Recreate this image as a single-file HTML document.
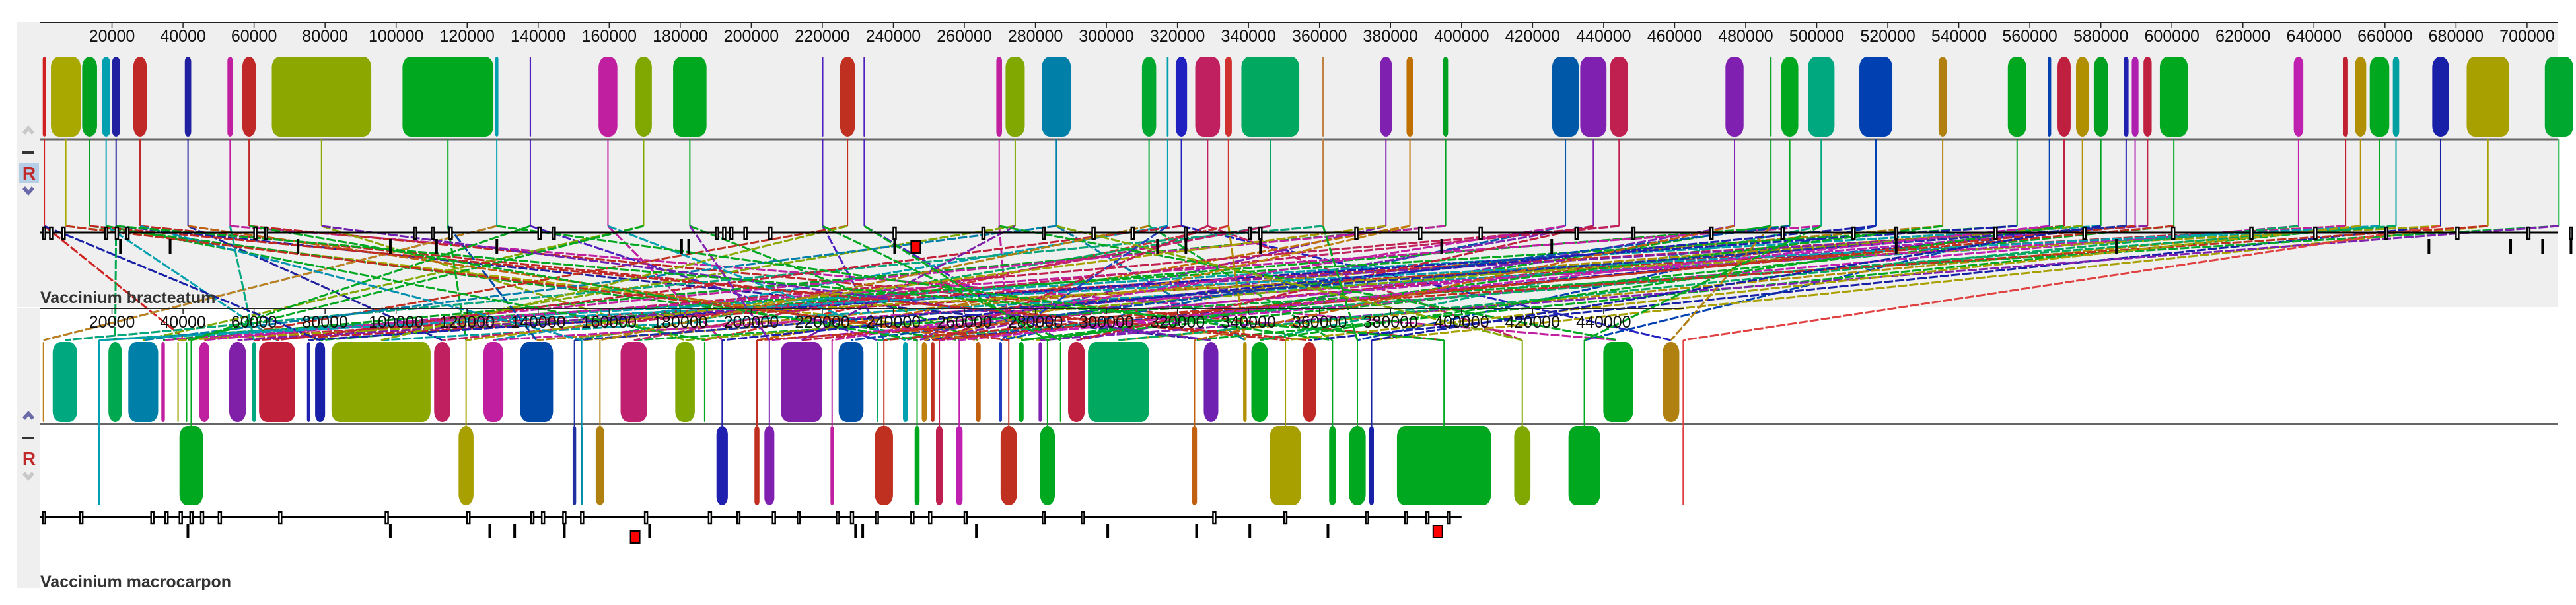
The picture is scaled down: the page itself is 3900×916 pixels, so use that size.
<!DOCTYPE html>
<html><head><meta charset="utf-8"><style>
html,body{margin:0;padding:0;background:#fff;}
svg{display:block;font-family:"Liberation Sans",sans-serif;}
</style></head><body>
<svg id="chart" width="3900" height="916" viewBox="0 0 3900 916" xmlns="http://www.w3.org/2000/svg">
<rect x="25" y="33" width="3847" height="432" fill="#efefef"/>
<rect x="25" y="466" width="36" height="424" fill="#efefef"/>
<g id="g-lines"></g>
<g id="g-top"></g>
<g id="g-bot"></g>
<g>
<path d="M34 200 L43 190 L52 200 L48 204 L43 198 L38 204Z" fill="#c8c8c8"/>
<rect x="34" y="229" width="18" height="4" fill="#333"/>
<rect x="29" y="247" width="30" height="30" fill="#b4cfe6"/>
<text x="44" y="272" font-size="28" font-weight="bold" fill="#c0282a" text-anchor="middle">R</text>
<path d="M34 286 L43 296 L52 286 L48 282 L43 288 L38 282Z" fill="#6a6aa8"/>
</g>
<g>
<path d="M34 632 L43 622 L52 632 L48 636 L43 630 L38 636Z" fill="#6a6aa8"/>
<rect x="34" y="661" width="18" height="4" fill="#333"/>
<text x="44" y="704" font-size="28" font-weight="bold" fill="#c0282a" text-anchor="middle">R</text>
<path d="M34 718 L43 728 L52 718 L48 714 L43 720 L38 714Z" fill="#c8c8c8"/>
</g>
</svg>
<script>
// ---- data (positions in kb) ----
const topStart=[0.5,2.8,11.6,17.2,20,26,40.5,52.5,56.7,65,101.8,127.9,137.6,157,167.4,178,219.9,225,231.6,269,271.6,281.8,310,317,319.5,325,333.4,338,360.8,377,384.5,394.8,425.5,433.4,441.8,474.3,486.9,490,497.5,512,534.3,553.8,565,567.8,573,578,586.4,588.7,592,596.6,634.3,648.2,651.5,655.7,662.2,673.3,683,705];
const topEnd=[1.4,11.2,15.8,19.5,22.3,29.8,42.3,54,60.5,93,127.4,128.8,138,162.3,172,187.4,220.3,229.2,232,270.6,277,290,314,317.5,322.7,332,335.3,354.3,361.2,380.4,386.4,396.2,433,440.8,446.9,479.4,487.3,494.8,505,521.3,536.6,559,566,571.5,576.6,582,587.8,590.6,594.3,604.5,637,649.6,654.7,661.2,664,678,695,713];
const topColor=["#d02020","#a8a800","#00a020","#00a0b0","#2020a0","#c02828","#2020a0","#c020a0","#c02828","#8ca800","#00a820","#00a0b0","#5020c0","#c020a0","#80a800","#00a820","#5020c0","#c03020","#5020c0","#c020a0","#80a800","#0080a8","#00a830","#00a0b0","#2020c0","#c02060","#d03030","#00a860","#c08040","#8020b0","#c07000","#00a020","#0058a8","#8020b0","#c02050","#8020b0","#00a020","#00a820","#00a880","#0040b0","#b08010","#00a820","#0040b0","#c02040","#b09000","#00a020","#2020b0","#b020b0","#c02040","#00a820","#c020b0","#c02030","#b09000","#00a820","#00a0a0","#1820a8","#a8a000","#00a830"];
const botStart=[0.5,3.3,16.1,19,24.6,33.9,38.4,40.8,44.6,53,59.5,61.4,74.9,77.2,81.8,110.7,124.6,134.9,163.2,178.6,186.7,208.3,224.6,235.3,242.7,248,250.6,263.2,269.7,275.3,280.9,286.9,289.2,294.8,327.4,338.5,340.8,355.3,439.9,456.6];
const botEnd=[0.9,10.2,16.6,22.8,33,34.9,38.8,41.2,47.4,57.7,60.5,71.6,75.8,80,109.7,115.3,130.2,144.2,170.7,184.1,187.1,220,231.6,235.7,244.1,249.4,251.6,264.6,270.6,276.7,281.8,287.3,293.9,312,331.5,339.5,345.5,359,448.3,461.3];
const botColor=["#c08020","#00a880","#00a0b0","#00a850","#0080a8","#c020a0","#a0a000","#00a820","#c020a0","#8020a8","#00a880","#c0203a","#2020b0","#1820a8","#8ca800","#c02060","#c020a0","#0048a8","#c02070","#80a800","#00a820","#8020a8","#0050a8","#00a860","#00a0b0","#c08010","#c03020","#c06010","#2040c0","#00a820","#8020b0","#00a820","#c02040","#00a860","#7020b0","#b09000","#00a820","#c02828","#00a820","#b08010"];
const revStart=[16.1,39,117.6,149.7,152,156.2,190.2,200.9,203.7,222.3,234.8,246,252,257.6,270.2,281.3,324.1,346,362.7,368.3,374,381.8,414.8,430.1,462.2];
const revEnd=[16.6,45.6,121.8,150.7,152.5,158.6,193.4,202.3,206.5,223.2,239.9,247.4,253.9,259.5,274.8,285.5,325.5,354.8,364.6,373,375.3,408.3,419.4,439,462.6];
const revColor=["#00a0b0","#00a820","#a8a000","#2030a0","#0090b0","#b08010","#2020b0","#c03020","#8020b0","#c020a0","#c03020","#00a820","#c02050","#c020b0","#c03020","#00a820","#c06010","#a8a000","#00a820","#00a820","#1820a8","#00a820","#80a800","#00a820","#e04040"];
const tickTop=[20000,40000,60000,80000,100000,120000,140000,160000,180000,200000,220000,240000,260000,280000,300000,320000,340000,360000,380000,400000,420000,440000,460000,480000,500000,520000,540000,560000,580000,600000,620000,640000,660000,680000,700000];
const tickBot=[20000,40000,60000,80000,100000,120000,140000,160000,180000,200000,220000,240000,260000,280000,300000,320000,340000,360000,380000,400000,420000,440000];
const topGenes=[0.5,2.5,6,18,21,24,60,63,105,110,115,140,144,190,192,194,198,205,240,265,282,296,307,322,340,343,370,388,405,432,448,470,490,510,522,550,575,600,622,640,660,680,700,712];
const topGenesLow=[22,36,72,98,111,128,180,182,240,314,322,343,394,425,522,584,672,695,704,712];
const botGenes=[0.5,11,31,35,39,42,45,50,67,97,120,138,141,147,152,170,188,196,206,213,224,228,235,245,250,260,282,293,330,350,373,384,390,396];
const botGenesLow=[41,98,126,133,147,171,171,229,231,263,300,325,340,362];

const X0=62, PX=5.377;
function xs(kb){return X0+kb*PX;}
const NS="http://www.w3.org/2000/svg";
function mk(tag,attrs,parent){const e=document.createElementNS(NS,tag);for(const k in attrs)e.setAttribute(k,attrs[k]);parent.appendChild(e);return e;}
const gT=document.getElementById('g-top'),gB=document.getElementById('g-bot'),gL=document.getElementById('g-lines');

function axis(g,y,ticks,xend,name){
  const l=mk('line',{x1:61,y1:y,x2:xend,y2:y,stroke:'#222','stroke-width':2},g);
  
  
  ticks.forEach(t=>{
    const x=xs(t/1000);
    const tk=mk('line',{x1:x,y1:y,x2:x,y2:y+8,stroke:'#222','stroke-width':1.5},g);
    
    
    const tx=mk('text',{x:x,y:y+29,'font-size':25,'text-anchor':'middle',fill:'#111'},g);
    tx.textContent=t;
    
    
  });
}
axis(gT,34,tickTop,3872,'top');
axis(gB,467,tickBot,xs(462.7),'bottom');
mk('line',{x1:61,y1:211,x2:3872,y2:211,stroke:'#666','stroke-width':3},gT);
mk('line',{x1:61,y1:642,x2:3872,y2:642,stroke:'#666','stroke-width':2},gB);

function block(g,s,e,c,y1,y2,name){
  const x=xs(s),w=Math.max(2,xs(e)-x);
  const r=Math.min(w/2,12);
  const b=mk('rect',{x:x,y:y1,width:w,height:y2-y1,rx:r,ry:Math.min(r*1.5,16),fill:c},g);
  
  
  return b;
}
topStart.forEach((s,i)=>{
  block(gT,s,topEnd[i],topColor[i],86,207,'top-lcb-block');
  const xc=xs((s+topEnd[i])/2);
  mk('line',{x1:xc,y1:211,x2:xc,y2:342,stroke:topColor[i],'stroke-width':2},gT);
});
botStart.forEach((s,i)=>{
  block(gB,s,botEnd[i],botColor[i],518,639,'bottom-lcb-block');
});
revStart.forEach((s,i)=>{
  block(gB,s,revEnd[i],revColor[i],645,765,'bottom-reverse-lcb-block');
  const xc=xs((s+revEnd[i])/2);
  mk('line',{x1:xc,y1:515,x2:xc,y2:645,stroke:revColor[i],'stroke-width':2},gB);
});
const all=botStart.map((s,i)=>[(s+botEnd[i])/2,botColor[i]]).concat(revStart.map((s,i)=>[(s+revEnd[i])/2,revColor[i]]));
topStart.forEach((s,i)=>{
  const j=(i*23+7)%all.length;
  const x1=xs((s+topEnd[i])/2),x2=xs(all[j][0]);
  const ln=mk('line',{x1:x1,y1:342,x2:x2,y2:515,stroke:topColor[i],'stroke-width':3,'stroke-dasharray':'14 3'},gL);
  
  
});
all.forEach((b,j)=>{
  const i=(j*17+11)%topStart.length;
  const x1=xs((topStart[i]+topEnd[i])/2),x2=xs(b[0]);
  const ln=mk('line',{x1:x1,y1:342,x2:x2,y2:515,stroke:b[1],'stroke-width':3,'stroke-dasharray':'14 3'},gL);
  
  
});
function genes(g,y,arr,low,xend,name){
  mk('line',{x1:61,y1:y,x2:xend,y2:y,stroke:'#000','stroke-width':3},g);
  arr.forEach(k=>{const r=mk('rect',{x:xs(k),y:y-8,width:4,height:18,fill:'#fff',stroke:'#000','stroke-width':2.5},g);
    });
  low.forEach(k=>{const r=mk('rect',{x:xs(k),y:y+10,width:4,height:22,fill:'#000'},g);
    });
}
genes(gT,352,topGenes,topGenesLow,3872,'top');
genes(gB,783,botGenes,botGenesLow,xs(400),'bottom');
[[gT,245,373],[gB,166,812],[gB,392,804]].forEach(a=>{const r=mk('rect',{x:xs(a[1]),y:a[2]-8,width:14,height:18,fill:'#f00',stroke:'#000','stroke-width':2},a[0]);
  });

const t1=mk('text',{x:61,y:459,'font-size':25,'font-weight':'bold',fill:'#333'},gT);t1.textContent='Vaccinium bracteatum';


const t2=mk('text',{x:61,y:889,'font-size':25,'font-weight':'bold',fill:'#333'},gB);t2.textContent='Vaccinium macrocarpon';


</script>
</body></html>
